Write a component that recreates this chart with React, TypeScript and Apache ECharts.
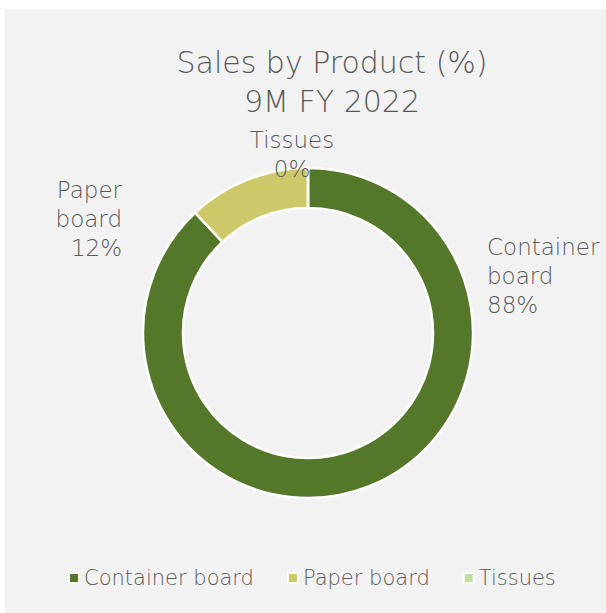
import React, { useEffect, useRef } from "react";
import * as echarts from "echarts";

const titleLines = ["Sales by Product (%)", "9M FY 2022"];
const categories = ["Container board", "Paper board", "Tissues"];
const values = [88, 12, 0];
const colors = ["#55772a", "#cdc96b", "#c3dd9f"];
const labelTexts = ["Container\nboard", "Paper\nboard", "Tissues"];

const FONT = "'DejaVu Sans', 'Open Sans', sans-serif";
const TEXT_COLOR = "#595959";

export default function App() {
  const ref = useRef<HTMLDivElement>(null);
  useEffect(() => {
    if (!ref.current) return;
    const chart = echarts.init(ref.current, undefined, { renderer: "svg" });
    const labelPos: any[] = [
      { x: 482, y: 223, align: "left" },
      { x: 117, y: 166, align: "right" },
      { x: 287, y: 116, align: "center" },
    ];
    chart.setOption({
      animation: false,
      backgroundColor: "#f2f2f2",
      title: {
        text: titleLines.join("\n"),
        left: 322,
        top: 29,
        textAlign: "center",
        textStyle: {
          fontFamily: FONT,
          fontWeight: 200,
          fontSize: 30,
          lineHeight: 39,
          color: TEXT_COLOR,
        },
      },
      legend: {
        data: categories,
        left: 58,
        top: 553,
        icon: "rect",
        itemWidth: 10,
        itemHeight: 10,
        itemGap: 33,
        itemStyle: { borderColor: "#ffffff", borderWidth: 2 },
        textStyle: {
          fontFamily: FONT,
          fontWeight: 200,
          fontSize: 21,
          lineHeight: 22,
          color: TEXT_COLOR,
        },
      },
      series: [
        {
          type: "pie",
          center: [303, 324],
          radius: [125, 165],
          startAngle: 90,
          clockwise: true,
          avoidLabelOverlap: false,
          itemStyle: { borderColor: "#ffffff", borderWidth: 2.5 },
          emphasis: { disabled: true },
          labelLine: { show: false },
          label: {
            show: true,
            position: "outside",
            formatter: (p: any) => `${labelTexts[p.dataIndex]}\n${p.value}%`,
            fontFamily: FONT,
            fontWeight: 200,
            fontSize: 23,
            lineHeight: 29,
            color: TEXT_COLOR,
          },
          labelLayout: (params: any) => {
            const pos = labelPos[params.dataIndex];
            return {
              x: pos.x,
              y: pos.y,
              align: pos.align,
              verticalAlign: "top",
            };
          },
          data: categories.map((name, i) => ({
            name,
            value: values[i],
            itemStyle: { color: colors[i] },
          })),
        },
      ],
    });
    return () => chart.dispose();
  }, []);
  return (
    <div
      ref={ref}
      style={{
        position: "absolute",
        left: 5,
        top: 9,
        width: 601,
        height: 604,
      }}
    />
  );
}
